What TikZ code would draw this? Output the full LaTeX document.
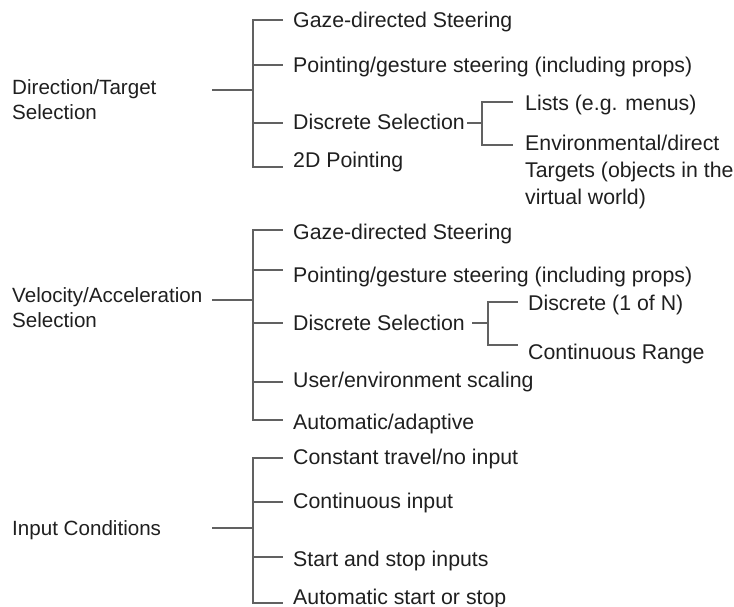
\documentclass[tikz,border=0pt]{standalone}
\usepackage{fontspec}
\setmainfont{Liberation Sans}
\begin{document}
\begin{tikzpicture}[x=1pt,y=-1pt,
  lbl/.style={anchor=base west, inner sep=0pt, text=black!88,
    font=\fontsize{21.3}{25}\selectfont, align=left},
  toplbl/.style={lbl, font=\fontsize{20.6}{25}\selectfont},
  sublbl/.style={lbl, font=\fontsize{21.3}{27}\selectfont},
  tree/.style={draw=black!62, line width=1.1pt}]
\useasboundingbox (0,0) rectangle (734,607);

% ---------- Direction/Target Selection ----------
% (multi-line labels are anchored on the baseline of their last line)
\node[toplbl] (dts) at (12,120) {Direction/Target\\Selection};
\node[lbl] (g1) at (293,27.5) {Gaze-directed Steering};
\node[lbl] (p1) at (293,72.5) {Pointing/gesture steering (including props)};
\node[lbl] (d1) at (293,129.5) {Discrete Selection};
\node[lbl] (t1) at (293,167.5) {2D Pointing};
\node[lbl] (l1) at (525,110.5) {Lists (e.g. menus)};
\node[sublbl] (en1) at (525,204.5) {Environmental/direct\\Targets (objects in the\\virtual world)};

\coordinate (r1) at (212,90);
\coordinate (k1) at (253,90);
\coordinate (e1a) at (283,20);
\coordinate (e1b) at (283,65);
\coordinate (e1c) at (283,123);
\coordinate (e1d) at (283,167);
\draw[tree] (r1) -- (k1);
\draw[tree] (e1a) -- (k1 |- e1a) -- (k1 |- e1d) -- (e1d);
\draw[tree] (k1 |- e1b) -- (e1b);
\draw[tree] (k1 |- e1c) -- (e1c);

\coordinate (r11) at (467,123);
\coordinate (k11) at (482,123);
\coordinate (e11a) at (513,102);
\coordinate (e11b) at (513,145);
\draw[tree] (r11) -- (k11);
\draw[tree] (e11a) -- (k11 |- e11a) -- (k11 |- e11b) -- (e11b);

% ---------- Velocity/Acceleration Selection ----------
\node[toplbl] (vas) at (12,327) {Velocity/Acceleration\\Selection};
\node[lbl] (g2) at (293,239.5) {Gaze-directed Steering};
\node[lbl] (p2) at (293,282.5) {Pointing/gesture steering (including props)};
\node[lbl] (d2) at (293,330.5) {Discrete Selection};
\node[lbl] (u2) at (293,387.5) {User/environment scaling};
\node[lbl] (a2) at (293,429.5) {Automatic/adaptive};
\node[lbl] (dn2) at (528,310.5) {Discrete (1 of N)};
\node[lbl] (cr2) at (528,359.5) {Continuous Range};

\coordinate (r2) at (212,300);
\coordinate (k2) at (253,300);
\coordinate (e2a) at (283,230);
\coordinate (e2b) at (283,270);
\coordinate (e2c) at (283,323);
\coordinate (e2d) at (283,382);
\coordinate (e2e) at (283,420);
\draw[tree] (r2) -- (k2);
\draw[tree] (e2a) -- (k2 |- e2a) -- (k2 |- e2e) -- (e2e);
\draw[tree] (k2 |- e2b) -- (e2b);
\draw[tree] (k2 |- e2c) -- (e2c);
\draw[tree] (k2 |- e2d) -- (e2d);

\coordinate (r21) at (472,323);
\coordinate (k21) at (488,323);
\coordinate (e21a) at (518,302);
\coordinate (e21b) at (518,345);
\draw[tree] (r21) -- (k21);
\draw[tree] (e21a) -- (k21 |- e21a) -- (k21 |- e21b) -- (e21b);

% ---------- Input Conditions ----------
\node[toplbl] (ic) at (12,535.5) {Input Conditions};
\node[lbl] (c3) at (293,464.5) {Constant travel/no input};
\node[lbl] (ci3) at (293,508.5) {Continuous input};
\node[lbl] (ss3) at (293,566.5) {Start and stop inputs};
\node[lbl] (as3) at (293,604) {Automatic start or stop};

\coordinate (r3) at (212,528);
\coordinate (k3) at (253,528);
\coordinate (e3a) at (283,458);
\coordinate (e3b) at (283,502);
\coordinate (e3c) at (283,557);
\coordinate (e3d) at (283,603);
\draw[tree] (r3) -- (k3);
\draw[tree] (e3a) -- (k3 |- e3a) -- (k3 |- e3d) -- (e3d);
\draw[tree] (k3 |- e3b) -- (e3b);
\draw[tree] (k3 |- e3c) -- (e3c);
\end{tikzpicture}
\end{document}
